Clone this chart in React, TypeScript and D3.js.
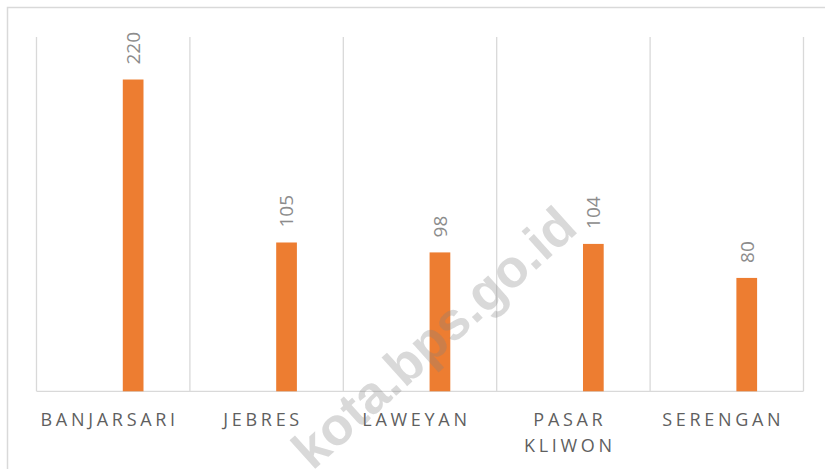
import React from "react";
import * as d3 from "d3";

const categories: string[][] = [["BANJARSARI"], ["JEBRES"], ["LAWEYAN"], ["PASAR", "KLIWON"], ["SERENGAN"]];
const categoryKeys = ["BANJARSARI", "JEBRES", "LAWEYAN", "PASAR KLIWON", "SERENGAN"];
const values = [220, 105, 98, 104, 80];
const yDomain = [0, 250];
const watermark = "kota.bps.go.id";

const W = 825;
const H = 469;

export default function App() {
  const x = d3.scaleBand<string>().domain(categoryKeys).range([36.5, 803.5]).padding(0);
  const y = d3.scaleLinear().domain(yDomain).range([391.3, 37]);
  const bw = x.bandwidth();
  const grid = categoryKeys.map((c) => x(c)!).concat([x.range()[1]]);
  const barW = bw * 0.135;
  const barOff = bw * 0.5625;
  const grey = "#d9d9d9";

  return (
    <svg width={W} height={H} style={{ position: "absolute", left: 0, top: 0, background: "#fff" }}>
      <rect x={7.5} y={7.5} width={830} height={480} fill="#fff" stroke={grey} strokeWidth={1.5} />
      {grid.map((gx, i) => (
        <line key={i} x1={gx} x2={gx} y1={y(yDomain[1])} y2={y(0)} stroke={grey} strokeWidth={1.3} />
      ))}
      <line x1={x.range()[0]} x2={x.range()[1]} y1={y(0)} y2={y(0)} stroke={grey} strokeWidth={1.3} />
      {categoryKeys.map((c, i) => {
        const bx = x(c)! + barOff;
        const top = y(values[i]);
        return (
          <g key={c}>
            <rect x={bx} y={top} width={barW} height={y(0) - top} fill="#ED7D31" />
            <text
              transform={`translate(${bx + barW / 2},${top - 15}) rotate(-90)`}
              dy="0.36em"
              fontFamily="'Open Sans', sans-serif"
              fontSize={19}
              fill="#8c8c8c"
            >
              {values[i]}
            </text>
          </g>
        );
      })}
      {categoryKeys.map((c, i) => (
        <text
          key={c}
          x={x(c)! + bw / 2 - 3.5}
          y={426}
          textAnchor="middle"
          fontFamily="'Open Sans', sans-serif"
          fontSize={18}
          letterSpacing={3.7}
          fill="#5f5f5f"
        >
          {categories[i].map((line, j) => (
            <tspan key={j} x={x(c)! + bw / 2 - 3.5} dy={j === 0 ? 0 : 25.7}>
              {line}
            </tspan>
          ))}
        </text>
      ))}
      <text
        transform="translate(446,351) rotate(-42)"
        textAnchor="middle"
        fontFamily="'Liberation Sans', Arial, sans-serif"
        fontWeight="bold"
        fontSize={53}
        fill="#808080"
        fillOpacity={0.3}
      >
        {watermark}
      </text>
    </svg>
  );
}
